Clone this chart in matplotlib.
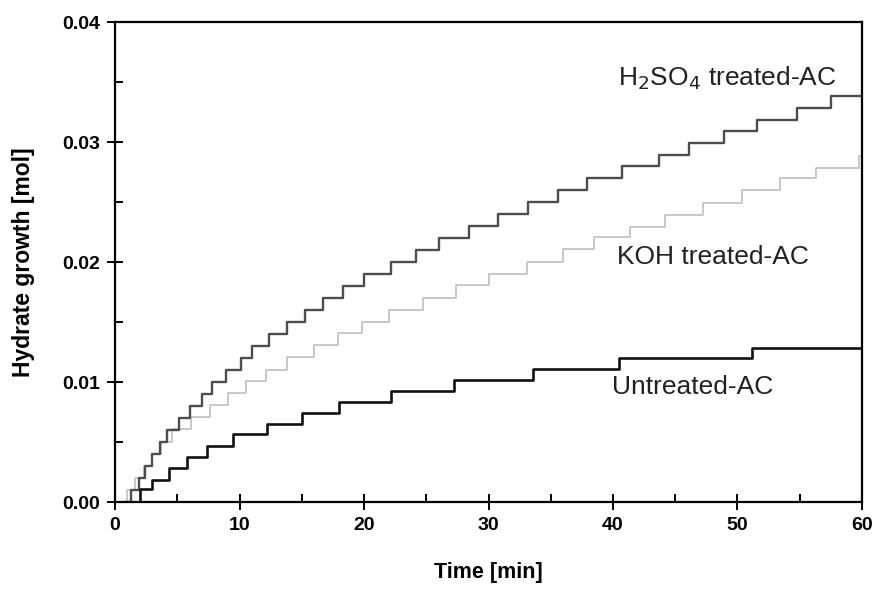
import numpy as np
import matplotlib
matplotlib.use('Agg')
import matplotlib.pyplot as plt
from matplotlib.ticker import MultipleLocator, FormatStrFormatter

plt.rcParams['font.family'] = ['Liberation Sans', 'DejaVu Sans']

# step data: time [min] where each level starts, level [mol]
t_untreated = [1.4, 2.0, 3.0, 4.3, 5.8, 7.4, 9.5, 12.2, 15.0, 18.0, 22.2, 27.2,
               33.6, 40.5, 51.2, 60.0]
y_untreated = [0.0, 0.00106, 0.00183, 0.0028, 0.00373, 0.00467, 0.00564, 0.0065,
               0.0074, 0.00836, 0.00928, 0.0102, 0.01106, 0.01197, 0.0128, 0.0128]

t_h2so4 = [0.8, 1.3, 1.9, 2.4, 3.0, 3.6, 4.2, 5.1, 6.0, 7.0, 7.8, 8.9, 10.1, 11.0,
           12.4, 13.8, 15.3, 16.7, 18.3, 20.0, 22.2, 24.2, 26.0, 28.4, 30.8, 33.2,
           35.6, 37.9, 40.7, 43.7, 46.1, 48.9, 51.6, 54.8, 57.5, 60.0]
y_h2so4 = [0.0, 0.001, 0.002, 0.003, 0.004, 0.005, 0.006, 0.007, 0.008, 0.009,
           0.010, 0.011, 0.012, 0.013, 0.014, 0.015, 0.016, 0.017, 0.018, 0.019,
           0.020, 0.021, 0.022, 0.023, 0.024, 0.025, 0.026, 0.027, 0.028, 0.0289,
           0.0299, 0.0309, 0.0318, 0.0328, 0.0338, 0.0338]

t_koh = [0.5, 1.0, 1.6, 2.3, 3.0, 3.7, 4.6, 6.1, 7.6, 9.1, 10.5, 12.1, 13.8, 16.0,
         17.9, 19.8, 22.0, 24.7, 27.4, 30.0, 33.1, 36.0, 38.5, 41.4, 44.2, 47.2,
         50.4, 53.4, 56.3, 59.8, 60.0]
y_koh = [0.0, 0.001, 0.002, 0.003, 0.004, 0.005, 0.0061, 0.0071, 0.0081, 0.0091,
         0.0101, 0.011, 0.0121, 0.0131, 0.0141, 0.015, 0.016, 0.017, 0.0181, 0.019,
         0.020, 0.0211, 0.0221, 0.0229, 0.0239, 0.0249, 0.026, 0.027, 0.0278,
         0.0288, 0.0288]

fig = plt.figure(figsize=(8.76, 5.92), dpi=100)
ax = fig.add_axes([0.1313, 0.152, 0.8527, 0.8108])

ax.step(t_koh, y_koh, where='post', c='#c4c4c4', lw=1.3)
ax.step(t_h2so4, y_h2so4, where='post', c='#4d4d4d', lw=1.7)
ax.step(t_untreated, y_untreated, where='post', c='#111111', lw=1.9)

ax.text(49.2, 0.0353, r'H$_2$SO$_4$ treated-AC', fontsize=19, ha='center', va='center', color='#222222')
ax.text(48.0, 0.0204, 'KOH treated-AC', fontsize=19, ha='center', va='center', color='#222222')
ax.text(46.4, 0.0096, 'Untreated-AC', fontsize=19, ha='center', va='center', color='#222222')

ax.set_xlim(0, 60)
ax.set_ylim(0, 0.04)
ax.xaxis.set_major_locator(MultipleLocator(10))
ax.xaxis.set_minor_locator(MultipleLocator(5))
ax.yaxis.set_major_locator(MultipleLocator(0.01))
ax.yaxis.set_minor_locator(MultipleLocator(0.005))
ax.yaxis.set_major_formatter(FormatStrFormatter('%.2f'))

ax.tick_params(which='major', direction='inout', length=11, width=1.4, pad=5)
ax.tick_params(which='minor', direction='in', length=6, width=1.4)
for lab in ax.get_xticklabels() + ax.get_yticklabels():
    lab.set_fontsize(14)
    lab.set_fontweight('bold')
for s in ax.spines.values():
    s.set_linewidth(1.6)

ax.set_xlabel('Time [min]', fontsize=15.5, fontweight='bold')
ax.set_ylabel('Hydrate growth [mol]', fontsize=16.5, fontweight='bold')
ax.xaxis.label.set_va('center')
ax.yaxis.label.set_va('center')
ax.xaxis.set_label_coords(0.5, -0.146)
ax.yaxis.set_label_coords(-0.123, 0.5)

fig.savefig('out.png', dpi=100)
